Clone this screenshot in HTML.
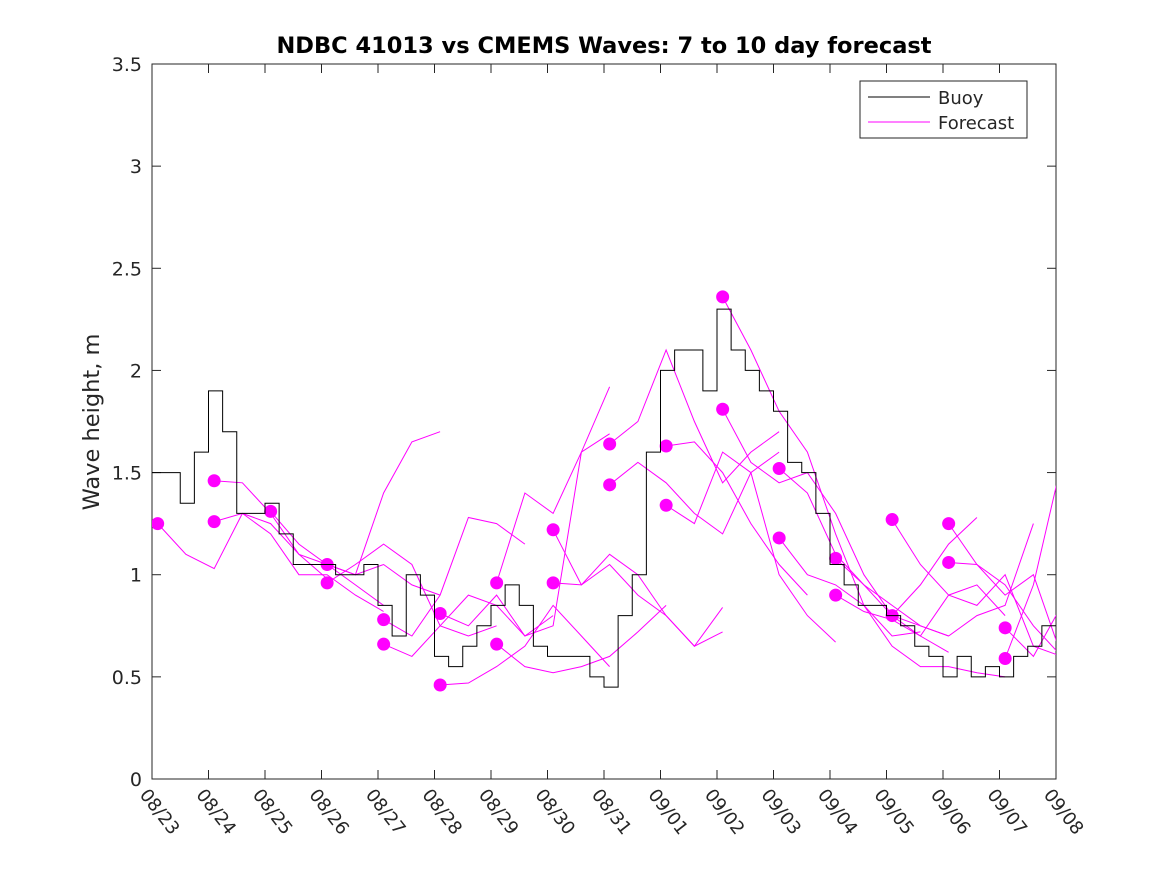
<!DOCTYPE html>
<html><head><meta charset="utf-8"><style>
body{margin:0;background:#fff;}
svg text{font-family:"DejaVu Sans","Liberation Sans",sans-serif;fill:#262626;}
</style></head><body>
<svg id="chart" width="1167" height="875" xmlns="http://www.w3.org/2000/svg">
<rect width="1167" height="875" fill="#fff"/>
<defs><clipPath id="pc"><rect x="152" y="64" width="904" height="715"/></clipPath></defs>
<rect x="152" y="64" width="904" height="715" fill="#fff" stroke="#262626" stroke-width="1"/>
<text x="604" y="53" text-anchor="middle" font-size="22.5" font-weight="bold" style="fill:#000">NDBC 41013 vs CMEMS Waves: 7 to 10 day forecast</text>
<text transform="translate(99,422) rotate(-90)" text-anchor="middle" font-size="22.5">Wave height, m</text>
<g id="axes"></g>
<g id="series" clip-path="url(#pc)"></g>
<g>
<rect x="860" y="81" width="167" height="57" fill="#fff" stroke="#262626"/>
<line x1="868" y1="97" x2="930" y2="97" stroke="#000"/>
<text x="938" y="104" font-size="18">Buoy</text>
<line x1="868" y1="122" x2="930" y2="122" stroke="#f0f"/>
<text x="938" y="129" font-size="18">Forecast</text>
</g>
</svg>
<script>
const xLabels=["08/23","08/24","08/25","08/26","08/27","08/28","08/29","08/30","08/31","09/01","09/02","09/03","09/04","09/05","09/06","09/07","09/08"];
const yTicks=[0,0.5,1,1.5,2,2.5,3,3.5];
const buoy=[1.5,1.5,1.35,1.6, 1.9,1.7,1.3,1.3, 1.35,1.2,1.05,1.05, 1.05,1.0,1.0,1.05, 0.85,0.7,1.0,0.9, 0.6,0.55,0.65,0.75, 0.85,0.95,0.85,0.65, 0.6,0.6,0.6,0.5, 0.45,0.8,1.0,1.6, 2.0,2.1,2.1,1.9, 2.3,2.1,2.0,1.9, 1.8,1.55,1.5,1.3, 1.05,0.95,0.85,0.85, 0.8,0.75,0.65,0.6, 0.5,0.6,0.5,0.55, 0.5,0.6,0.65,0.75];
const fcStart=[0.1,1.1,1.1,2.1,3.1,3.1,4.1,4.1,5.1,5.1,6.1,6.1,7.1,7.1,8.1,8.1,9.1,9.1,10.1,10.1,11.1,11.1,12.1,12.1,13.1,13.1,14.1,14.1,15.1,15.1];
const fcVals=[
[1.25,1.1,1.03,1.3,1.25,1.1,0.98],
[1.46,1.45,1.3,1.1,1.05,0.95,0.85],
[1.26,1.3,1.2,1.0,1.0,0.9,0.82],
[1.31,1.15,1.05,1.0,1.05,0.95,0.9],
[1.05,1.0,1.4,1.65,1.7],
[0.96,1.05,1.15,1.05,0.75,0.7,0.75],
[0.78,0.7,0.9,1.28,1.25,1.15],
[0.66,0.6,0.75,0.9,0.85,0.7,0.8],
[0.81,0.75,0.9,0.7,0.75,1.6,1.92],
[0.46,0.47,0.55,0.65,0.85,0.7,0.55],
[0.96,1.4,1.3,1.6,1.69],
[0.66,0.55,0.52,0.55,0.6,0.72,0.85],
[1.22,0.95,1.05,0.9,0.8,0.65,0.72],
[0.96,0.95,1.1,1.0,0.8,0.65,0.84],
[1.64,1.75,2.1,1.75,1.45,1.6,1.7],
[1.44,1.55,1.45,1.3,1.2,1.5,1.6],
[1.63,1.65,1.5,1.25,1.05,0.9],
[1.34,1.25,1.6,1.5,1.0,0.8,0.67],
[2.36,2.1,1.8,1.6,1.2,0.85,0.65,0.55,0.55,0.52,0.5],
[1.81,1.55,1.45,1.5,1.3,1.0,0.8,0.7,0.62],
[1.52,1.4,1.1,0.95,0.8,0.75,0.7],
[1.18,1.0,0.95,0.85,0.7,0.72],
[1.08,0.95,0.85,0.75,0.7,0.8,0.85,1.25],
[0.90,0.82,0.78,0.7,0.9,0.95,0.8],
[1.27,1.05,0.9,0.85,1.0,0.65,0.6],
[0.80,0.95,1.15,1.28],
[1.25,1.05,0.95,0.75,0.6,0.55,0.55,0.53],
[1.06,1.05,0.9,1.0,0.6,0.85,1.15],
[0.74,0.6,0.85,1.3,1.6,1.85],
[0.59,0.95,1.55,1.8,2.08]
];
const NS="http://www.w3.org/2000/svg";
const X0=152,X1=1056,Y0=779,Y1=64;
const xs=d=>X0+(X1-X0)*d/16;
const ys=v=>Y0-(Y0-Y1)*v/3.5;
function mk(t,a,p){const e=document.createElementNS(NS,t);for(const k in a)e.setAttribute(k,a[k]);p.appendChild(e);return e;}
const axes=document.getElementById('axes'),ser=document.getElementById('series');
xLabels.forEach((l,i)=>{const x=xs(i);
 const t=mk('line',{x1:x,x2:x,y1:Y0,y2:Y0-9,stroke:'#262626'},axes);
 
 mk('line',{x1:x,x2:x,y1:Y1,y2:Y1+9,stroke:'#262626'},axes);
 const tx=mk('text',{transform:`translate(${x-13},${Y0+16}) rotate(52)`,'font-size':18},axes);tx.textContent=l;
 });
yTicks.forEach(v=>{const y=ys(v);
 mk('line',{x1:X0,x2:X0+9,y1:y,y2:y,stroke:'#262626'},axes);
 mk('line',{x1:X1,x2:X1-9,y1:y,y2:y,stroke:'#262626'},axes);
 const tx=mk('text',{x:X0-10,y:y+7,'text-anchor':'end','font-size':19},axes);tx.textContent=String(v);
 });
fcVals.forEach((vals,k)=>{
 const pts=vals.map((v,i)=>xs(fcStart[k]+i*0.5).toFixed(1)+','+ys(v).toFixed(1)).join(' ');
 const pl=mk('polyline',{points:pts,fill:'none',stroke:'#ff00ff','stroke-width':1},ser);
 
 const c=mk('circle',{cx:xs(fcStart[k]),cy:ys(vals[0]),r:6.5,fill:'#ff00ff'},ser);
 });
let bp=[];buoy.forEach((v,i)=>{bp.push(xs(i*0.25)+','+ys(v));bp.push(xs((i+1)*0.25)+','+ys(v));});
const b=mk('polyline',{points:bp.join(' '),fill:'none',stroke:'#000','stroke-width':1},ser);

</script>
</body></html>
